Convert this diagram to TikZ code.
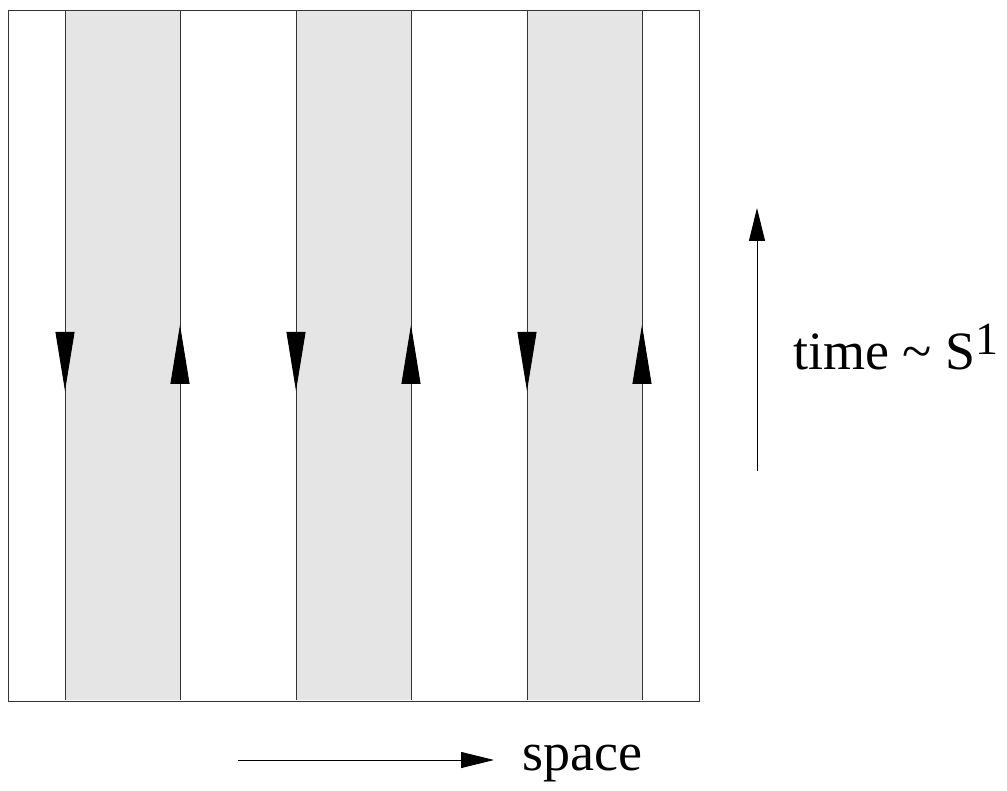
\documentclass[tikz,border=0pt]{standalone}
\usepackage{fontspec}
\setmainfont{Liberation Serif}
\usetikzlibrary{arrows.meta,positioning,decorations.markings}

\begin{document}
\begin{tikzpicture}[x=1pt,y=-1pt,
    edgeline/.style={draw=black!80,line width=0.9pt},
    stripfill/.style={fill=black!10},
    midarrow/.style={postaction={decorate},decoration={markings,
        mark=at position #1 with {\arrow{Triangle[length=59pt,width=19pt,black]}}}},
    axisarrow/.style={-{Triangle[length=33pt,width=16pt]},line width=0.9pt},
    label/.style={inner sep=0pt,anchor=base west,font=\fontsize{54}{54}\selectfont}]
    \useasboundingbox (0,0) rectangle (1007,791);
    % strips
    \foreach \x/\n in {65/a,296/b,527/c} {
        \fill[stripfill] (\x,10) rectangle (\x+115,700);
        \coordinate (\n tl) at (\x,10);
        \coordinate (\n bl) at (\x,700);
        \coordinate (\n tr) at (\x+115,10);
        \coordinate (\n br) at (\x+115,700);
    }
    \draw[edgeline] (8,10) rectangle (699,701);
    \foreach \n in {a,b,c} {
        \draw[edgeline,midarrow=0.552] (\n tl) -- (\n bl);
        \draw[edgeline,midarrow=0.5435] (\n br) -- (\n tr);
    }
    % axes
    \coordinate (t0) at (757,471);
    \coordinate (t1) at (757,208);
    \draw[axisarrow] (t0) -- (t1);
    \node[label] (time) at (793,370) {time \textasciitilde{} S\raisebox{15pt}{\fontsize{46}{46}\selectfont 1}};
    \coordinate (s0) at (238,760);
    \coordinate (s1) at (494,760);
    \draw[axisarrow] (s0) -- (s1);
    \node[label] (space) at (522,770) {space};
\end{tikzpicture}
\end{document}
